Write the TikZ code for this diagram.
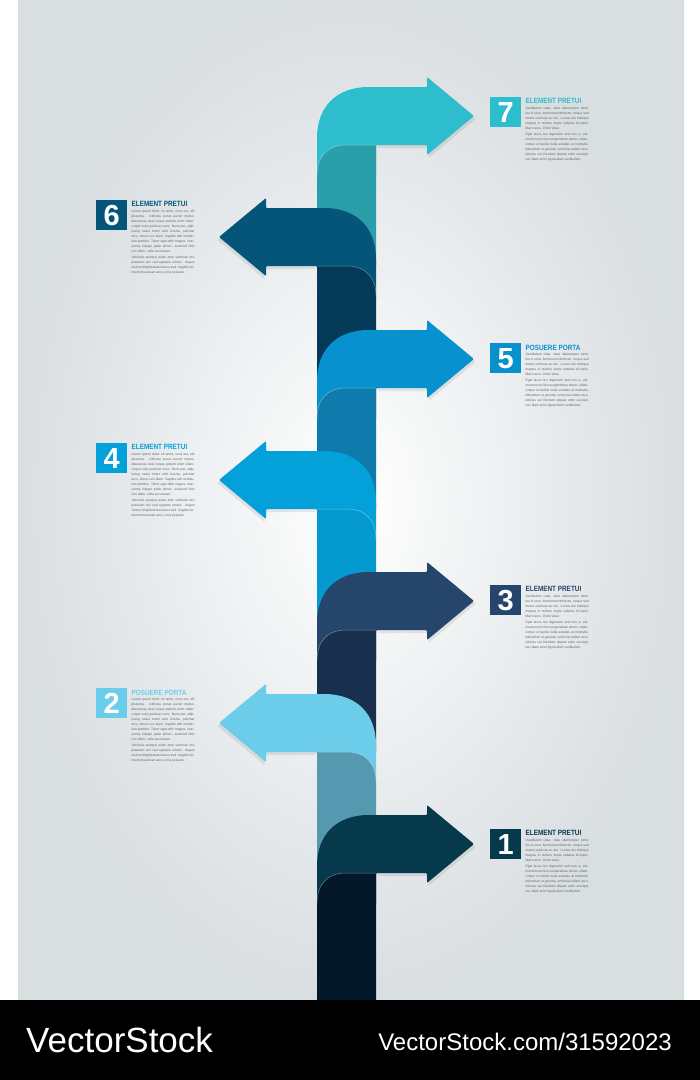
\documentclass[tikz,border=0pt]{standalone}
\usepackage{fontspec}
\setmainfont{Liberation Sans}
\usepackage{graphicx}
\usetikzlibrary{positioning}

\definecolor{arrow7}{HTML}{2EBDCD}
\definecolor{fold7}{HTML}{2A9FA9}
\definecolor{arrow6}{HTML}{05557B}
\definecolor{fold6}{HTML}{043A57}
\definecolor{arrow5}{HTML}{0891CF}
\definecolor{fold5}{HTML}{0F7BAD}
\definecolor{arrow4}{HTML}{03A0D9}
\definecolor{fold4}{HTML}{049AD0}
\definecolor{arrow3}{HTML}{25456A}
\definecolor{fold3}{HTML}{182F4E}
\definecolor{arrow2}{HTML}{6CCDEA}
\definecolor{fold2}{HTML}{5499AF}
\definecolor{arrow1}{HTML}{06394B}
\definecolor{fold1}{HTML}{03192A}
\definecolor{bodygray}{HTML}{5E6367}
\definecolor{bgedge}{HTML}{D9DEE1}

\newcommand{\bodyright}{Vestibulum vitae, vitae ullamcorper tortor leo in urna, fermentum dolorum, neque sed metus vehicula eu dui. Luctus dui tristique magna, in nullam, turpis sodales id turpis, libero arcu. Dolor vitae.\par\vspace{1.6pt}Eget lacus leo dignissim sed non a, elementum orci leo suspendisse donec, ullamcorper ut facilisi nulla sodales at molestie, bibendum ut gravida, vehicula nullam arcu, ultrices vel tincidunt aliquet enim suscipit, nec diam enim ligula diam vestibulum.}
\newcommand{\bodyleft}{Lorem ipsum dolor sit amet, urna est, elit pharetra. Ultricies purus auctor metus. Maecenas duis neque potenti enim ullamcorper erat, pulvinar nunc. Nunc per, adipiscing natus tortor velit viverra, pulvinar arcu, donec orci diam. Sagittis odit vestibulum porttitor. Tortor eget nibh magna. Nonummy integer pede donec, euismod felis non diam, nulla accumsan.\par\vspace{1.6pt}Vehicula quisque pede ante vehicula orci praesent orci sed egestas ornare. Augue viverra fringilla lectus lacus sed. Sagittis fermentum aenean arcu, urna posuere.}

\begin{document}
\begin{tikzpicture}[
        x=1pt, y=-1pt,
        numbox/.style={rectangle, anchor=north west, minimum width=31pt, minimum height=30pt, inner sep=0pt, text=white, font=\fontsize{29}{29}\selectfont\bfseries},
        steptitle/.style={inner sep=0pt, font=\fontsize{7.6}{8}\selectfont\bfseries},
        stepbody/.style={inner sep=0pt, text width=63pt, align=justify, text=bodygray, font=\fontsize{3.3}{4.9}\selectfont},
        shine/.style={white, opacity=.4, line width=.5pt},
        brand/.style={text=white, inner sep=0pt}
    ]

    \useasboundingbox (0,0) rectangle (700,1080);

    % Background
    \shade[inner color=white, outer color=bgedge] (18,0) rectangle (684,1000);

    % Arrows and the folded column
    \foreach \T/\s/\k/\E in {87/1/7/266, 208/-1/6/388, 330/1/5/509, 451/-1/4/630, 572/1/3/752, 694/-1/2/873, 815/1/1/1000}{
        \pgfmathsetmacro\B{\T+58}
        \pgfmathsetmacro\sx{(1-\s)*346.5}
        \begin{scope}[shift={(\sx,0)}, xscale=\s]
            \fill[black, opacity=.08, shift={(1.5,3)}] (376,\T) -- (427,\T) -- (427,\T-10) -- (474,\T+29) -- (427,\T+68) -- (427,\B) -- (376,\B) -- cycle;
            \fill[arrow\k, rounded corners=1pt] (317,\B+32) -- (317,\T+52) .. controls (317,\T+20) and (336,\T) .. (370,\T) -- (427,\T) -- (427,\T-10) -- (474,\T+29) -- (427,\T+68) -- (427,\B) -- (376,\B) -- (376,\B+32) -- cycle;
            \fill[fold\k] (376,\B) -- (346,\B) .. controls (327,\B) and (317,\B+12) .. (317,\B+30) -- (317,\E) -- (376,\E) -- cycle;
            \draw[shine] (376,\B) -- (346,\B) .. controls (327,\B) and (317,\B+12) .. (317,\B+30);
        \end{scope}
    }

    % Step 7
    \node[numbox, fill=arrow7] (box7) at (490,97) {7};
    \node[steptitle, text=arrow7, below right=1.5pt and 4pt of box7.north east] (title7) {\scalebox{0.84}[1]{ELEMENT PRETUI}};
    \node[stepbody, below right=3pt and 0pt of title7.south west] (text7) {\bodyright};

    % Step 6
    \node[numbox, fill=arrow6] (box6) at (96,200) {6};
    \node[steptitle, text=arrow6, below right=1.5pt and 4pt of box6.north east] (title6) {\scalebox{0.84}[1]{ELEMENT PRETUI}};
    \node[stepbody, below right=3pt and 0pt of title6.south west] (text6) {\bodyleft};

    % Step 5
    \node[numbox, fill=arrow5] (box5) at (490,343) {5};
    \node[steptitle, text=arrow5, below right=1.5pt and 4pt of box5.north east] (title5) {\scalebox{0.84}[1]{POSUERE PORTA}};
    \node[stepbody, below right=3pt and 0pt of title5.south west] (text5) {\bodyright};

    % Step 4
    \node[numbox, fill=arrow4] (box4) at (96,443) {4};
    \node[steptitle, text=arrow4, below right=1.5pt and 4pt of box4.north east] (title4) {\scalebox{0.84}[1]{ELEMENT PRETUI}};
    \node[stepbody, below right=3pt and 0pt of title4.south west] (text4) {\bodyleft};

    % Step 3
    \node[numbox, fill=arrow3] (box3) at (490,585) {3};
    \node[steptitle, text=arrow3, below right=1.5pt and 4pt of box3.north east] (title3) {\scalebox{0.84}[1]{ELEMENT PRETUI}};
    \node[stepbody, below right=3pt and 0pt of title3.south west] (text3) {\bodyright};

    % Step 2
    \node[numbox, fill=arrow2] (box2) at (96,688) {2};
    \node[steptitle, text=arrow2, below right=1.5pt and 4pt of box2.north east] (title2) {\scalebox{0.84}[1]{POSUERE PORTA}};
    \node[stepbody, below right=3pt and 0pt of title2.south west] (text2) {\bodyleft};

    % Step 1
    \node[numbox, fill=arrow1] (box1) at (490,829) {1};
    \node[steptitle, text=arrow1, below right=1.5pt and 4pt of box1.north east] (title1) {\scalebox{0.84}[1]{ELEMENT PRETUI}};
    \node[stepbody, below right=3pt and 0pt of title1.south west] (text1) {\bodyright};

    % Banner
    \fill[black] (0,1000) rectangle (700,1080);
    \node[brand, anchor=west, font=\fontsize{35}{35}\selectfont] (brandname) at (26,1040) {VectorStock};
    \node[brand, anchor=east, font=\fontsize{24}{24}\selectfont] (brandlink) at (672,1042) {VectorStock.com/31592023};

\end{tikzpicture}
\end{document}
